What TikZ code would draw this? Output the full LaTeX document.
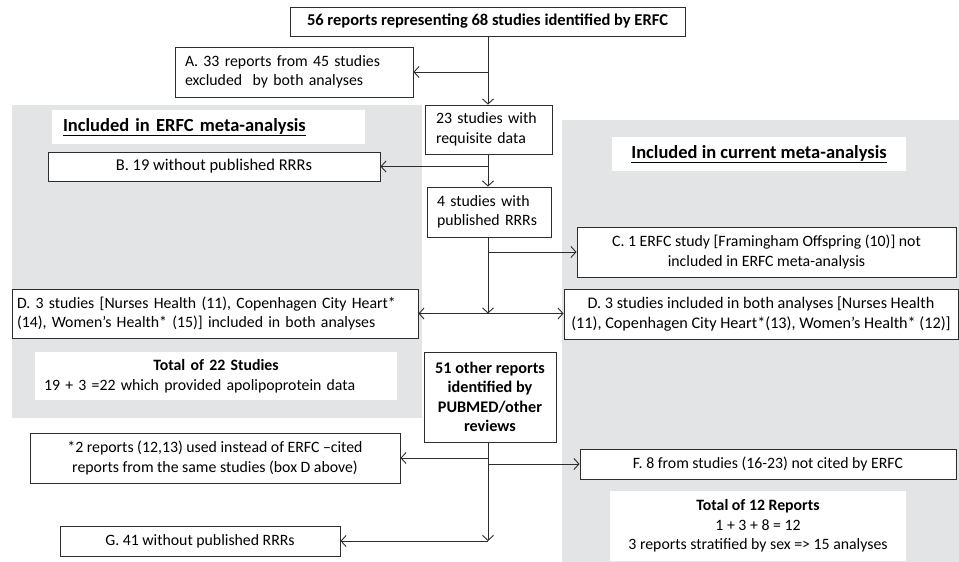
\documentclass[tikz,border=0pt]{standalone}
\usepackage{fontspec}
\setmainfont{Carlito}
\usetikzlibrary{arrows.meta}
\definecolor{panel}{RGB}{227,228,230}
\definecolor{ln}{RGB}{45,45,45}
\frenchspacing
\begin{document}
\begin{tikzpicture}[x=1pt,y=-1pt,
  box/.style={draw=ln, line width=0.9pt, fill=white, inner sep=0pt,
    font=\fontsize{15.8}{19.5}\selectfont, align=center},
  hbox/.style={fill=white, inner sep=0pt, font=\fontsize{18.5}{22}\selectfont\bfseries},
  wbox/.style={fill=white, inner sep=0pt, font=\fontsize{15.8}{19.5}\selectfont, align=center},
  arr/.style={draw=ln, line width=0.9pt, -{Straight Barb[length=5pt,width=11pt]}},
  ln/.style={draw=ln, line width=0.9pt}]
\useasboundingbox (0,0) rectangle (959,562);
% gray panels
\fill[panel] (12,105) rectangle (422,418);
\fill[panel] (562,120) rectangle (959,562);
% headings
\node[hbox, minimum width=313, minimum height=34, text width=291, align=left] (he) at (208.5,127) {\mbox{\underline{Included in ERFC meta-analysis}}};
\node[hbox, minimum width=294, minimum height=34] (hc) at (759,154) {\underline{Included in current meta-analysis}};
% boxes
\node[box, minimum width=395, minimum height=29, font=\fontsize{16.5}{19.5}\selectfont\bfseries] (top) at (487.5,21.5) {56 reports representing 68 studies identified by ERFC};
\node[box, minimum width=238, minimum height=50, text width=218, align=left] (A) at (294,72) {\mbox{A. 33 reports from 45 studies}\\\mbox{excluded\ \ by both analyses}};
\node[box, minimum width=127, minimum height=49, text width=105, align=left] (s23) at (488.5,129.5) {\mbox{23 studies with}\\\mbox{requisite data}};
\node[box, minimum width=332, minimum height=29, font=\fontsize{16.5}{19.5}\selectfont] (B) at (214,166.5) {B. 19 without published RRRs};
\node[box, minimum width=124, minimum height=50, text width=104, align=left] (s4) at (489,212) {\mbox{4 studies with}\\\mbox{published RRRs}};
\node[box, minimum width=379, minimum height=50] (C) at (766.5,252) {C. 1 ERFC study [Framingham Offspring (10)] not\\included in ERFC meta-analysis};
\node[box, minimum width=394, minimum height=50, font=\fontsize{16.2}{19.5}\selectfont] (Dr) at (761,314) {D. 3 studies included in both analyses [Nurses Health\\(11), Copenhagen City Heart*(13), Women’s Health* (12)]};
\node[box, minimum width=406, minimum height=49, text width=396, align=left] (Dl) at (215,313.5) {\mbox{D. 3 studies [Nurses Health (11), Copenhagen City Heart*}\\\mbox{(14), Women’s Health* (15)] included in both analyses}};
\node[wbox, minimum width=362, minimum height=48, text width=344, align=left] (t22) at (216,376) {\makebox[344pt]{\bfseries Total of 22 Studies}\\\mbox{19 + 3 =22 which provided apolipoprotein data}};
\node[box, minimum width=132, minimum height=90, font=\fontsize{16.2}{19.3}\selectfont\bfseries] (s51) at (490,397) {51 other reports\\identified by\\PUBMED/other\\reviews};
\node[box, minimum width=370, minimum height=50] (star) at (215,458) {*2 reports (12,13) used instead of ERFC –cited\\reports from the same studies (box D above)};
\node[box, minimum width=280, minimum height=30] (G) at (200,541) {G. 41 without published RRRs};
\node[box, minimum width=376, minimum height=30] (F) at (768,464) {F. 8 from studies (16-23) not cited by ERFC};
\node[wbox, minimum width=296, minimum height=70] (t12) at (758,526) {\textbf{Total of 12 Reports}\\1 + 3 + 8 = 12\\3 reports stratified by sex => 15 analyses};
% connectors
\coordinate (sp) at (488,0);
\draw[arr] (sp |- top.south) -- (sp |- s23.north);
\draw[arr] (sp |- A.east) -- (A.east);
\draw[arr] (sp |- s23.south) -- (sp |- s4.north);
\draw[arr] (sp |- B.east) -- (B.east);
\draw[arr] (sp |- s4.south) -- (sp |- Dl.east);
\draw[arr] (sp |- C.west) -- (C.west);
\draw[draw=ln, line width=0.9pt, {Straight Barb[length=5pt,width=11pt]}-{Straight Barb[length=5pt,width=11pt]}] (Dl.east) -- (Dr.west |- Dl.east);
\draw[arr] (sp |- s51.south) -- (sp |- G.east);
\draw[arr] (sp |- star.east) -- (star.east);
\draw[arr] (sp |- F.west) -- (F.west);
\draw[arr] (sp |- G.east) -- (G.east);
\end{tikzpicture}
\end{document}
